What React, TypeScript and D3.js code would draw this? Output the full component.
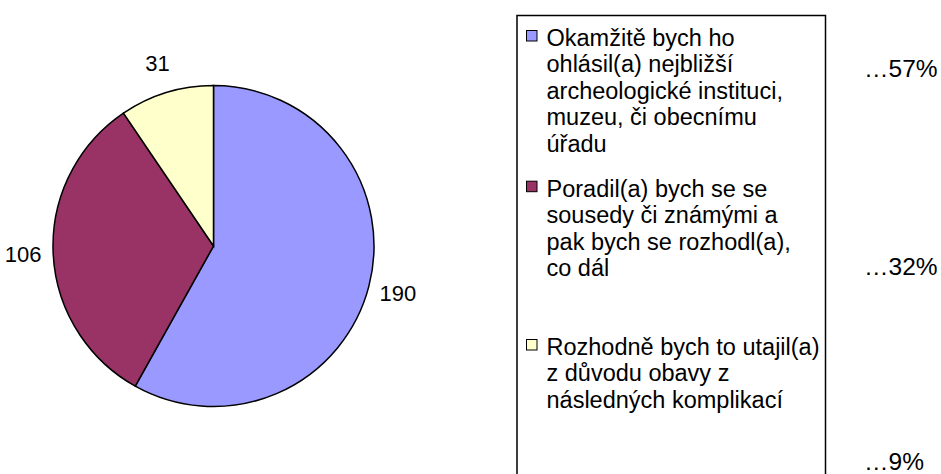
import React from "react";
import * as d3 from "d3";

// survey answers
const categories = [
  "Okamžitě bych ho ohlásil(a) nejbližší archeologické instituci, muzeu, či obecnímu úřadu",
  "Poradil(a) bych se se sousedy či známými a pak bych se rozhodl(a), co dál",
  "Rozhodně bych to utajil(a) z důvodu obavy z následných komplikací",
];
const legendLines = [
  ["Okamžitě bych ho", "ohlásil(a) nejbližší", "archeologické instituci,", "muzeu, či obecnímu", "úřadu"],
  ["Poradil(a) bych se se", "sousedy či známými a", "pak bych se rozhodl(a),", "co dál"],
  ["Rozhodně bych to utajil(a)", "z důvodu obavy z", "následných komplikací"],
];
const values = [190, 106, 31];
const percentLabels = ["…57%", "…32%", "…9%"];
const colors = ["#9999FF", "#993366", "#FFFFCC"];

const W = 941,
  H = 474;
const FONT = "Arial, 'Liberation Sans', sans-serif";

export default function App() {
  const cx = 213.5,
    cy = 246,
    radius = 160.5;

  const pie = d3
    .pie<number>()
    .sort(null)
    .value((d) => d);
  const slices = pie(values);
  const arc = d3.arc<d3.PieArcDatum<number>>().innerRadius(0).outerRadius(radius);
  const labelArc = d3
    .arc<d3.PieArcDatum<number>>()
    .innerRadius(radius + 30)
    .outerRadius(radius + 30);

  // legend layout
  const box = { x: 517, y: 15.5, w: 308.5 };
  const lineH = 26.4;
  const entryTop = [46, 196.7, 355];
  const pctBaselines = [76.7, 275, 469.5];

  return (
    <svg
      width={W}
      height={H}
      style={{ position: "absolute", left: 0, top: 0, background: "#fff" }}
      fontFamily={FONT}
    >
      <g transform={`translate(${cx},${cy})`}>
        {slices.map((s, i) => (
          <path key={i} d={arc(s) || ""} fill={colors[i]} stroke="#000" strokeWidth={1.5} />
        ))}
        {slices.map((s, i) => {
          const [x, y] = labelArc.centroid(s);
          return (
            <text
              key={i}
              x={x}
              y={y}
              fontSize={22}
              textAnchor="middle"
              dominantBaseline="central"
              fill="#000"
            >
              {s.data}
            </text>
          );
        })}
      </g>

      <rect x={box.x} y={box.y} width={box.w} height={H} fill="none" stroke="#000" strokeWidth={1.5} />
      {legendLines.map((lines, i) => (
        <g key={i}>
          <rect
            x={526.5}
            y={entryTop[i] - 15.5}
            width={10.5}
            height={10.5}
            fill={colors[i]}
            stroke="#000"
            strokeWidth={1}
          >
            <title>{categories[i]}</title>
          </rect>
          <text x={546.5} y={entryTop[i]} fontSize={23.5} fill="#000">
            {lines.map((l, j) => (
              <tspan key={j} x={546.5} y={entryTop[i] + j * lineH}>
                {l}
              </tspan>
            ))}
          </text>
        </g>
      ))}

      {percentLabels.map((p, i) => (
        <text key={i} x={864} y={pctBaselines[i]} fontSize={24.5} fill="#000">
          {p}
        </text>
      ))}
    </svg>
  );
}
